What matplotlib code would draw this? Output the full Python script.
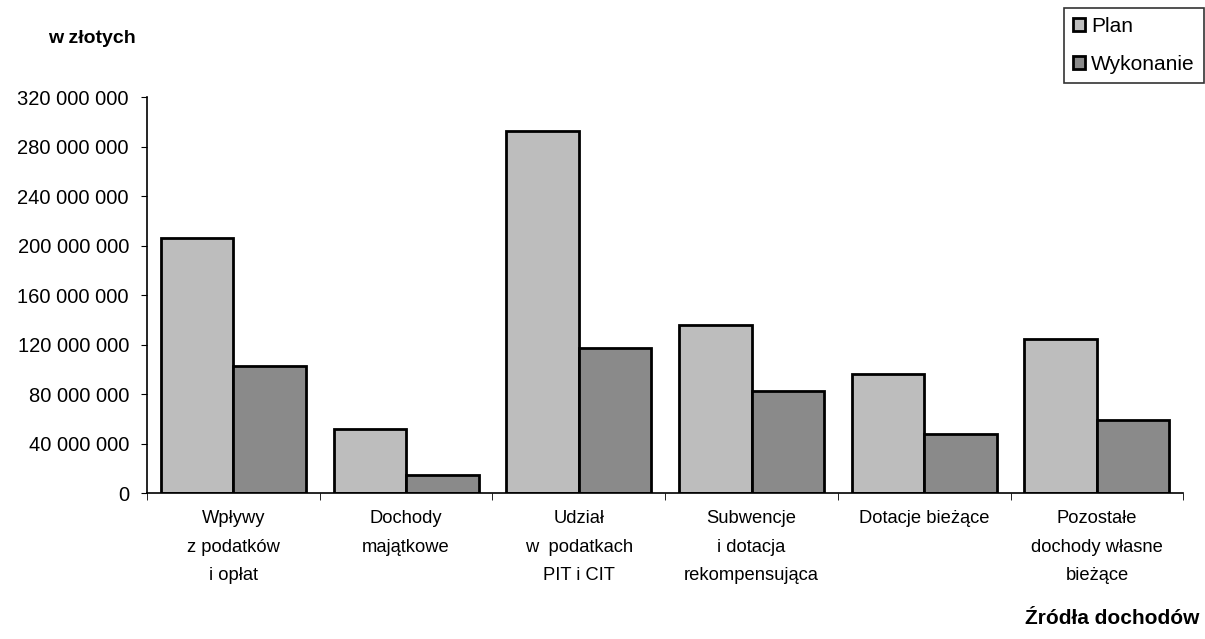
import numpy as np
import matplotlib
matplotlib.use("Agg")
import matplotlib.pyplot as plt

plt.rcParams['font.family'] = ['Liberation Sans', 'DejaVu Sans']

categories = ["Wpływy\nz podatków\ni opłat", "Dochody\nmajątkowe", "Udział\nw  podatkach\nPIT i CIT",
              "Subwencje\ni dotacja\nrekompensująca", "Dotacje bieżące", "Pozostałe\ndochody własne\nbieżące"]
plan = [206000000, 52000000, 293000000, 136000000, 96000000, 125000000]
wykonanie = [103000000, 15000000, 117000000, 83000000, 48000000, 59000000]
y_ticks = [0, 40000000, 80000000, 120000000, 160000000, 200000000, 240000000, 280000000, 320000000]

fig = plt.figure(figsize=(12.05, 6.39), dpi=100)
ax = fig.add_axes([0.122, 0.228, 0.860, 0.620])

x = np.arange(len(categories))
w = 0.42
ax.bar(x - w / 2, plan, w, color='#bdbdbd', edgecolor='black', linewidth=2, label='Plan')
ax.bar(x + w / 2, wykonanie, w, color='#8a8a8a', edgecolor='black', linewidth=2, label='Wykonanie')

ax.set_xlim(-0.5, len(categories) - 0.5)
ax.set_ylim(0, 320000000)
ax.set_yticks(y_ticks)
ax.set_yticklabels(['{:,}'.format(v).replace(',', ' ') for v in y_ticks], fontsize=14.5)
ax.set_xticks(x)
ax.set_xticklabels(categories, fontsize=13.2, linespacing=1.9, va='top')
ax.set_xticks(np.arange(len(categories) + 1) - 0.5, minor=True)
ax.tick_params(axis='x', which='major', length=0, pad=12)
ax.tick_params(axis='x', which='minor', length=5, direction='out')
ax.tick_params(axis='y', length=4, direction='out', pad=9)
ax.spines['top'].set_visible(False)
ax.spines['right'].set_visible(False)
ax.spines['left'].set_linewidth(1.2)
ax.spines['bottom'].set_linewidth(1.2)

fig.text(0.040, 0.94, 'w złotych', fontsize=14, fontweight='bold', va='center')
fig.text(0.995, 0.032, 'Źródła dochodów', fontsize=15, fontweight='bold', ha='right', va='center')

leg = fig.legend(loc='upper right', bbox_to_anchor=(0.999, 0.988), borderaxespad=0, fontsize=15,
                 frameon=True, fancybox=False, edgecolor='black', handlelength=0.55, handleheight=0.55,
                 handletextpad=0.3, borderpad=0.45, labelspacing=0.9)
leg.get_frame().set_linewidth(1.2)

plt.savefig('out.png', dpi=100)
